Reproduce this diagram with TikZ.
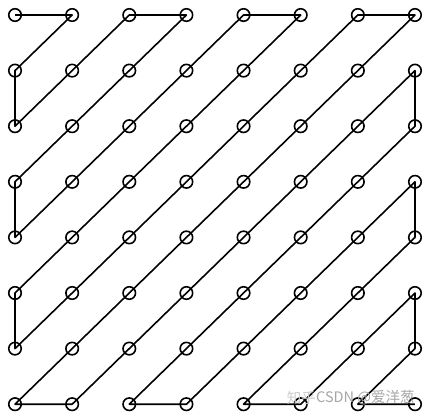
\documentclass[tikz,border=0pt]{standalone}
\usepackage{fontspec}
\newfontfamily\cjk{Noto Sans CJK SC}
\begin{document}
\begin{tikzpicture}[x=1pt,y=-1pt,
  pt/.style={circle,draw=black,line width=1.6pt,minimum size=12.5pt,inner sep=0pt},
  zz/.style={line width=1.6pt,line join=round},
  wm/.style={text=black!35,font=\cjk\fontsize{14.5}{14.5}\selectfont,inner sep=0pt}]
\useasboundingbox (0,0) rectangle (429,416);
\foreach \c in {0,...,7}{
  \foreach \r in {0,...,7}{
    \coordinate (n\c\r) at ({15+57.14*\c},{15+55.6*\r});
  }
}
\draw[zz] (n00)--(n10)--(n01)--(n02)--(n11)--(n20)--(n30)--(n21)--(n12)--(n03)--(n04)--(n13)--(n22)--(n31)--(n40)--(n50)--(n41)--(n32)--(n23)--(n14)--(n05)--(n06)--(n15)--(n24)--(n33)--(n42)--(n51)--(n60)--(n70)--(n61)--(n52)--(n43)--(n34)--(n25)--(n16)--(n07)--(n17)--(n26)--(n35)--(n44)--(n53)--(n62)--(n71)--(n72)--(n63)--(n54)--(n45)--(n36)--(n27)--(n37)--(n46)--(n55)--(n64)--(n73)--(n74)--(n65)--(n56)--(n47)--(n57)--(n66)--(n75)--(n76)--(n67)--(n77);
\foreach \c in {0,...,7}{
  \foreach \r in {0,...,7}{
    \node[pt] (p\c\r) at (n\c\r) {};
  }
}
\node[wm,anchor=west] (wm1) at (316,398) {CSDN @爱洋葱};
\node[wm,anchor=east,text=black!20] (wm2) at (wm1.west) {知乎};
\end{tikzpicture}
\end{document}
